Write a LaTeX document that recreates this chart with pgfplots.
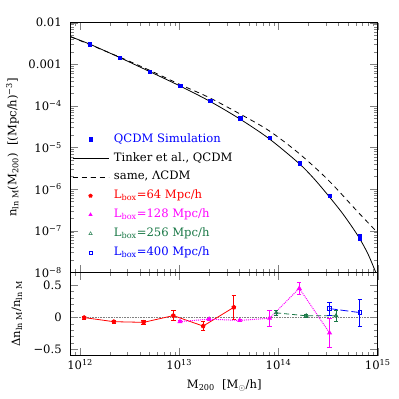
\documentclass[border=0pt]{standalone}
\usepackage{fontspec}
\setmainfont{DejaVu Serif}
\usepackage{pgfplots}
\pgfplotsset{compat=1.18}

\definecolor{qblue}{RGB}{0,0,255}
\definecolor{qred}{RGB}{255,0,0}
\definecolor{qmag}{RGB}{255,0,255}
\definecolor{qgreen}{RGB}{25,120,70}
\newcommand\fs{\fontsize{11.6}{13.5}\selectfont}

\begin{document}
\begin{tikzpicture}[font=\fs]
\useasboundingbox (0pt,0pt) rectangle (399pt,399pt);

% upper panel: mass function
\begin{axis}[
  scale only axis, width=307pt, height=249.7pt,
  at={(70.7pt,126.7pt)}, anchor=south west,
  xmode=log, xmin=8.05e11, xmax=1e15,
  ymode=log, ymin=1e-8, ymax=1e-2,
  tick align=inside, xtick pos=both, ytick pos=both,
  major tick length=7.5pt, minor tick length=3.75pt,
  axis line style={line width=0.8pt},
  xtick={1e12,1e13,1e14,1e15},
  minor xtick={9e11,2e12,3e12,4e12,5e12,6e12,7e12,8e12,9e12,
    2e13,3e13,4e13,5e13,6e13,7e13,8e13,9e13,
    2e14,3e14,4e14,5e14,6e14,7e14,8e14,9e14},
  xticklabels={},
  ytick={1e-8,1e-7,1e-6,1e-5,1e-4,1e-3,1e-2},
  yticklabels={{10\textsuperscript{−8}},{10\textsuperscript{−7}},{10\textsuperscript{−6}},{10\textsuperscript{−5}},{10\textsuperscript{−4}},{0.001},{0.01}},
  minor ytick={2e-8,3e-8,4e-8,5e-8,6e-8,7e-8,8e-8,9e-8,
    2e-7,3e-7,4e-7,5e-7,6e-7,7e-7,8e-7,9e-7,
    2e-6,3e-6,4e-6,5e-6,6e-6,7e-6,8e-6,9e-6,
    2e-5,3e-5,4e-5,5e-5,6e-5,7e-5,8e-5,9e-5,
    2e-4,3e-4,4e-4,5e-4,6e-4,7e-4,8e-4,9e-4,
    2e-3,3e-3,4e-3,5e-3,6e-3,7e-3,8e-3,9e-3},
  tick label style={font=\fs},
  yticklabel style={xshift=-5.5pt},
  ylabel={n\textsubscript{ln M}(M\textsubscript{200})\ \ [(Mpc/h)\textsuperscript{−3}]},
  ylabel style={font=\fs, at={(axis description cs:-0.19,0.5)}, anchor=center},
  legend image code/.code={
    \draw[mark repeat=2,mark phase=2,#1] plot coordinates {(0pt,0pt) (18pt,0pt) (36pt,0pt)};},
  legend cell align=left,
  legend style={draw=none, fill=none, at={(axis description cs:0.004,0.556)},
    anchor=north west, inner sep=0pt, row sep=7.9pt,
    nodes={inner sep=0pt, text height=8.5pt, text depth=2.5pt, font=\fs},
    /tikz/every odd column/.append style={column sep=5pt}},
]
\addplot[black, line width=0.8pt, smooth, forget plot] coordinates {
  (8.05e11,4.571e-3) (1.259e12,3.020e-3) (2.512e12,1.445e-3) (5.012e12,6.68e-4)
  (1e13,3.055e-4) (1.995e13,1.318e-4) (3.981e13,5.01e-5) (7.943e13,1.66e-5)
  (1.585e14,4.27e-6) (2.239e14,1.862e-6) (3.162e14,7.08e-7) (4.467e14,2.512e-7)
  (6.31e14,7.59e-8) (7.943e14,2.818e-8) (9.55e14,1e-8) (1e15,7.6e-9)};
\addplot[black, line width=0.8pt, dash pattern=on 5pt off 4pt, smooth, forget plot] coordinates {
  (8.05e11,4.571e-3) (2.512e12,1.479e-3) (5.012e12,7.16e-4) (1e13,3.311e-4)
  (1.995e13,1.585e-4) (3.981e13,6.61e-5) (7.943e13,2.570e-5) (1.585e14,7.41e-6)
  (3.162e14,1.660e-6) (6.31e14,2.818e-7) (1e15,8.91e-8)};
\addplot[only marks, mark=square*, qblue, mark size=1.8pt, forget plot] coordinates {
  (1.25e12,3.0e-3) (2.51e12,1.43e-3) (5.05e12,6.6e-4) (1.016e13,3.04e-4)
  (2.04e13,1.33e-4) (4.1e13,5.0e-5) (8.13e13,1.71e-5) (1.63e14,4.15e-6)
  (3.27e14,6.9e-7) (6.58e14,6.9e-8)};
\addplot[only marks, mark=square*, qblue, mark size=1.8pt, forget plot,
  error bars/.cd, y dir=both, y explicit,
  error bar style={qblue, line width=0.8pt}, error mark options={qblue, mark size=2pt, rotate=90}]
  coordinates {
  (3.27e14,6.9e-7) += (0,0.7e-7) -= (0,0.6e-7)
  (6.58e14,6.9e-8) += (0,1.3e-8) -= (0,1.1e-8)};

\addlegendimage{only marks, mark=square*, qblue, mark size=1.8pt}
\addlegendentry{\textcolor{qblue}{QCDM Simulation}}
\addlegendimage{black, line width=0.8pt}
\addlegendentry{Tinker et al., QCDM}
\addlegendimage{black, line width=0.8pt, dash pattern=on 5pt off 4pt}
\addlegendentry{same, ΛCDM}
\addlegendimage{only marks, mark=pentagon*, qred, mark size=2pt}
\addlegendentry{\textcolor{qred}{L\textsubscript{box}=64 Mpc/h}}
\addlegendimage{only marks, mark=triangle*, qmag, mark size=2pt}
\addlegendentry{\textcolor{qmag}{L\textsubscript{box}=128 Mpc/h}}
\addlegendimage{only marks, mark=triangle, qgreen, mark size=2pt}
\addlegendentry{\textcolor{qgreen}{L\textsubscript{box}=256 Mpc/h}}
\addlegendimage{only marks, mark=square, qblue, mark size=1.8pt}
\addlegendentry{\textcolor{qblue}{L\textsubscript{box}=400 Mpc/h}}
\end{axis}

% lower panel: residuals
\begin{axis}[
  scale only axis, width=307pt, height=83.4pt,
  at={(70.7pt,43.3pt)}, anchor=south west,
  xmode=log, xmin=8.05e11, xmax=1e15,
  ymin=-0.6, ymax=0.7,
  tick align=inside, xtick pos=both, ytick pos=both,
  major tick length=7.5pt, minor tick length=3.75pt,
  axis line style={line width=0.8pt},
  xtick={1e12,1e13,1e14,1e15},
  minor xtick={9e11,2e12,3e12,4e12,5e12,6e12,7e12,8e12,9e12,
    2e13,3e13,4e13,5e13,6e13,7e13,8e13,9e13,
    2e14,3e14,4e14,5e14,6e14,7e14,8e14,9e14},
  xticklabels={{10\textsuperscript{12}},{10\textsuperscript{13}},{10\textsuperscript{14}},{10\textsuperscript{15}}},
  ytick={-0.5,0,0.5}, yticklabels={−0.5,0,0.5}, minor y tick num=4,
  tick label style={font=\fs},
  yticklabel style={xshift=-5.5pt},
  xlabel={M\textsubscript{200}\ \ [M\textsubscript{$\odot$}/h]},
  xlabel style={font=\fs, at={(axis description cs:0.5,0)}, yshift=-30pt, anchor=center},
  ylabel={Δn\textsubscript{ln M}/n\textsubscript{ln M}},
  ylabel style={font=\fs, at={(axis description cs:-0.175,0.5)}, anchor=center},
]
\addplot[gray, densely dotted, line width=0.6pt] coordinates {(8.05e11,0) (1e15,0)};

\addplot[qred, line width=0.8pt, mark=pentagon*, mark size=2pt, mark options={solid},
  error bars/.cd, y dir=both, y explicit,
  error bar style={solid, line width=0.8pt}, error mark options={qred, mark size=2.2pt, rotate=90}]
  coordinates {
  (1.10e12,-0.006) +- (0,0.02)
  (2.19e12,-0.07) +- (0,0.018)
  (4.37e12,-0.08) +- (0,0.03)
  (8.71e12,0.025) +- (0,0.078)
  (1.74e13,-0.138) +- (0,0.07)
  (3.55e13,0.155) +- (0,0.19)};

\addplot[qmag, densely dotted, line width=1pt, mark=triangle*, mark size=2pt, mark options={solid},
  error bars/.cd, y dir=both, y explicit,
  error bar style={solid, line width=0.8pt}, error mark options={qmag, mark size=2.2pt, solid, rotate=90}]
  coordinates {
  (1.016e13,-0.068) +- (0,0.015)
  (2.0e13,-0.03) +- (0,0.015)
  (4.07e13,-0.05) +- (0,0.02)
  (8.13e13,-0.016) +- (0,0.12)
  (1.62e14,0.45) +- (0,0.088)
  (3.27e14,-0.245) +- (0,0.23)};

\addplot[qgreen, line width=0.8pt, dash pattern=on 5pt off 3pt, mark=triangle, mark size=2pt, mark options={solid},
  error bars/.cd, y dir=both, y explicit,
  error bar style={solid, line width=0.8pt}, error mark options={qgreen, mark size=2.2pt, solid, rotate=90}]
  coordinates {
  (9.48e13,0.068) +- (0,0.035)
  (1.905e14,0.022) +- (0,0.02)
  (3.80e14,0.023) +- (0,0.09)};

\addplot[qblue, line width=0.8pt, dash pattern=on 8pt off 3pt, mark=square, mark size=1.8pt, mark options={solid},
  error bars/.cd, y dir=both, y explicit,
  error bar style={solid, line width=0.8pt}, error mark options={qblue, mark size=2.2pt, solid, rotate=90}]
  coordinates {
  (3.27e14,0.134) +- (0,0.1)
  (6.61e14,0.072) +- (0,0.21)};
\end{axis}
\end{tikzpicture}
\end{document}
